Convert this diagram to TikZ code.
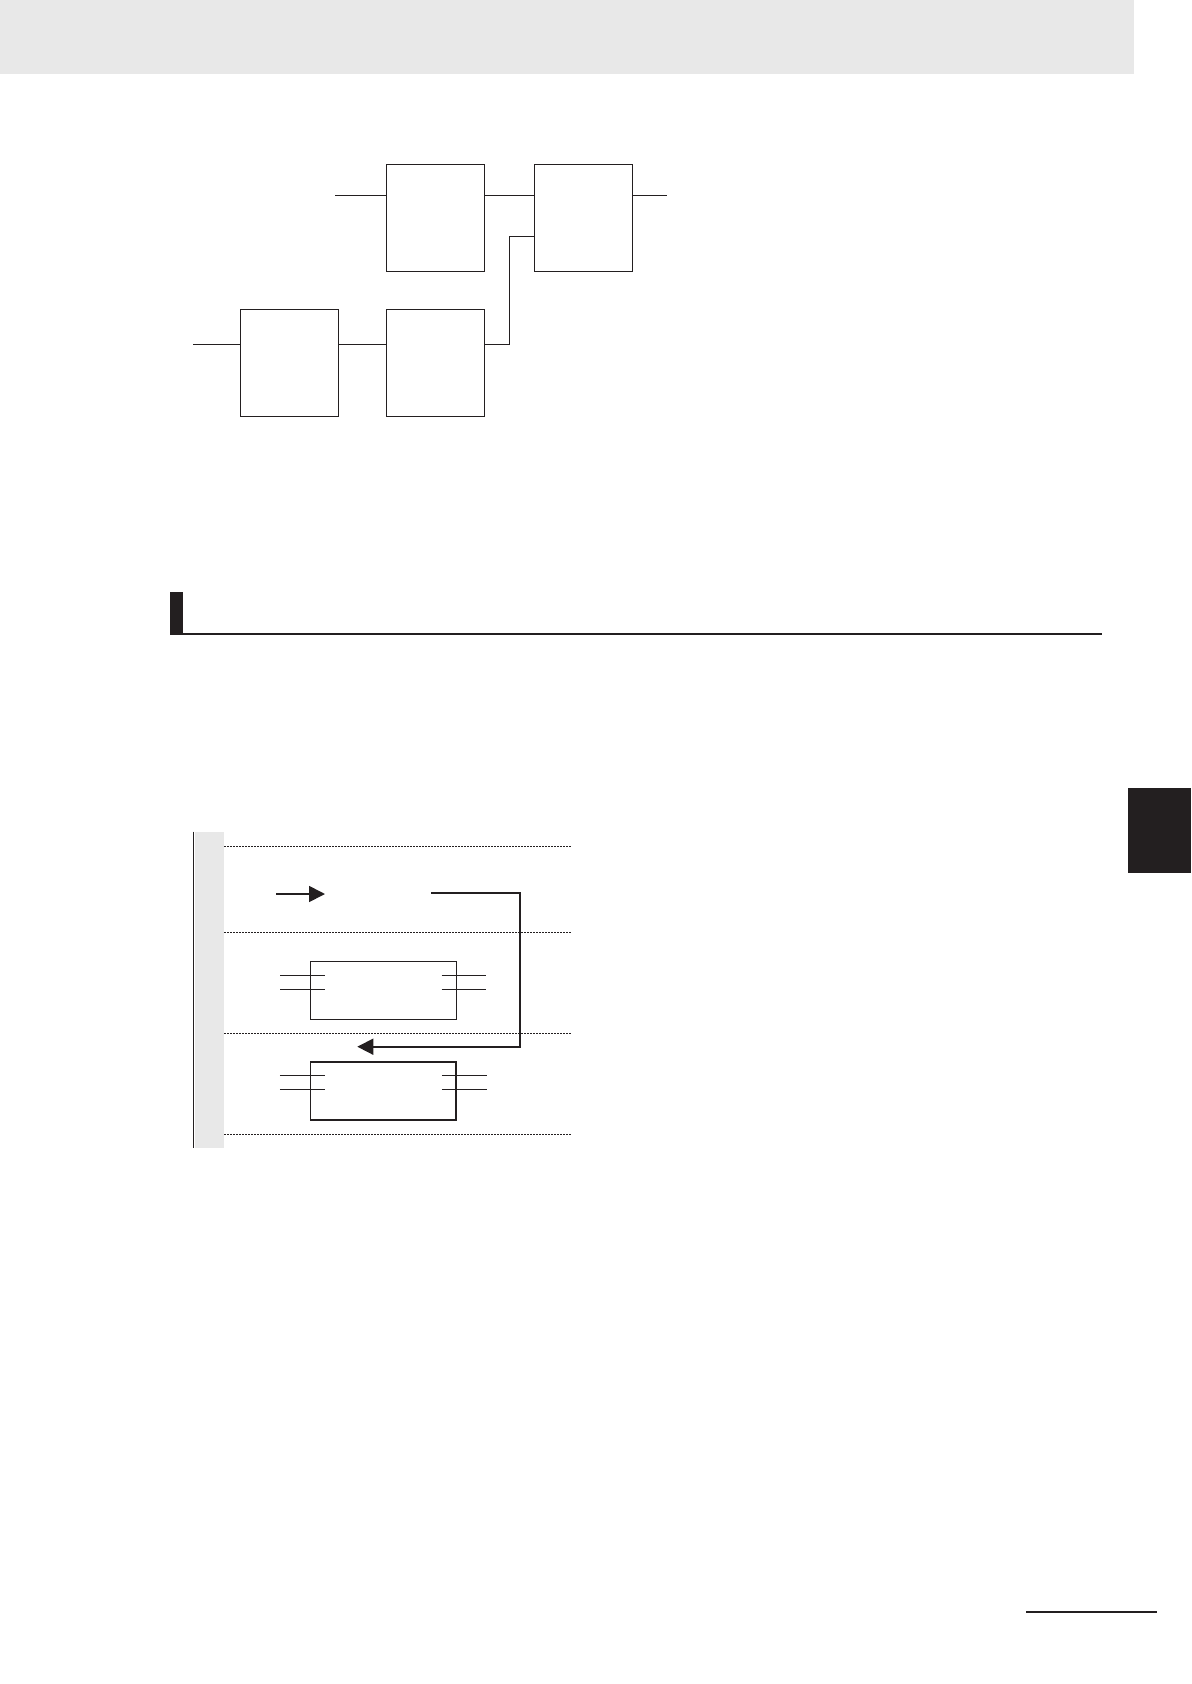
\documentclass[tikz,border=0pt]{standalone}
\usepackage{tikz}
\usetikzlibrary{arrows.meta}
\definecolor{pagegray}{HTML}{E8E8E8}
\definecolor{inkblack}{HTML}{231F20}

\begin{document}
\begin{tikzpicture}[x=0.5pt,y=-0.5pt,line join=miter,color=inkblack,
  fbblock/.style={draw,line width=0.65pt,minimum width=49pt,minimum height=53.5pt,inner sep=0pt},
  fbwire/.style={line width=0.65pt},
  stepframe/.style={draw,minimum width=72.85pt,minimum height=28.8pt,inner sep=0pt},
  rungline/.style={line width=0.45pt,dash pattern=on 1pt off 0.5pt},
  jumptip/.style={-{Triangle[length=8pt,width=8pt]}}]
\useasboundingbox (0,0) rectangle (1191,1684);
% page furniture
\fill[pagegray] (0,0) rectangle (1133.7,73.7);
\fill (1128,788.3) rectangle (1191,872.7);
\draw[line width=1pt] (1026,1612) -- (1156.7,1612);
\fill (170,592) rectangle (183.3,634.7);
\draw[line width=1pt] (170,633.7) -- (1102,633.7);
% function block network
\node[fbblock] (blkA) at (435.3,217.8) {};
\node[fbblock] (blkB) at (583.3,217.8) {};
\node[fbblock] (blkC) at (289.3,363.3) {};
\node[fbblock] (blkD) at (435.3,363.3) {};
\coordinate (inA) at (335,195.3);
\coordinate (inC) at (193,344.3);
\coordinate (outB) at (666.7,195.3);
\coordinate (elbow) at (509.3,236.7);
\draw[fbwire] (inA) -- (inA -| blkA.west);
\draw[fbwire] (inA -| blkA.east) -- (inA -| blkB.west);
\draw[fbwire] (outB -| blkB.east) -- (outB);
\draw[fbwire] (inC) -- (inC -| blkC.west);
\draw[fbwire] (inC -| blkC.east) -- (inC -| blkD.west);
\draw[fbwire] (inC -| blkD.east) -| (elbow) -- (elbow -| blkB.west);
% jump example
\fill[pagegray] (195,831.7) rectangle (224,1148);
\draw[line width=0.5pt] (193.3,831.7) -- (193.3,1148);
\foreach \ry in {846.3,932.3,1033.3,1134}
  \draw[rungline] (224,\ry) -- (570.7,\ry);
\coordinate (jmpS) at (276,894);
\coordinate (jmpE) at (325,894);
\draw[jumptip,line width=0.85pt] (jmpS) -- (jmpE);
\node[stepframe,line width=0.5pt] (skipbox) at (383.2,990.5) {};
\node[stepframe,line width=0.85pt] (destbox) at (383.2,1091) {};
\foreach \bx in {skipbox,destbox}{
  \foreach \dy in {7,14.25}{
    \draw[line width=0.5pt] ([xshift=-14.8pt,yshift=-\dy pt]\bx.north west) -- ([xshift=7.7pt,yshift=-\dy pt]\bx.north west);
    \draw[line width=0.5pt] ([xshift=-7.5pt,yshift=-\dy pt]\bx.north east) -- ([xshift=14.85pt,yshift=-\dy pt]\bx.north east);
  }
}
\coordinate (lblEnd) at (431,892.7);
\coordinate (turnA) at (520,892.7);
\coordinate (turnB) at (520,1046.7);
\coordinate (lblDest) at (357.3,1046.7);
\draw[jumptip,line width=0.85pt] (lblEnd) -- (turnA) -- (turnB) -- (lblDest);
\end{tikzpicture}
\end{document}
